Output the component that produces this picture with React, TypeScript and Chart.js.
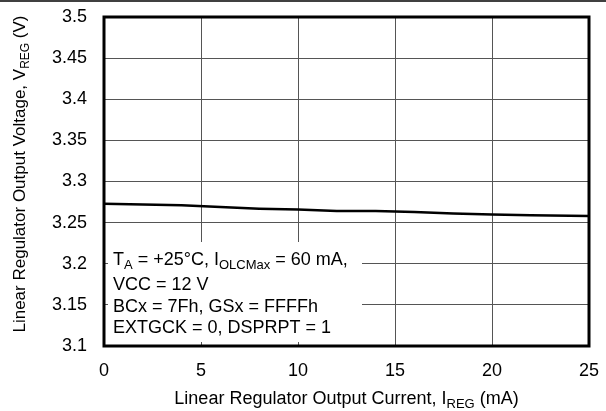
import React, { useEffect, useRef } from "react";
import { Chart, registerables } from "chart.js";

Chart.register(...registerables);

const currentMA = [0, 2, 4, 6, 8, 10, 11, 12, 14, 16, 18, 20, 22, 25];
const voltageV = [3.273, 3.272, 3.271, 3.269, 3.267, 3.266, 3.265, 3.264, 3.264, 3.263, 3.261, 3.26, 3.259, 3.258];

const xTicks = [0, 5, 10, 15, 20, 25];
const yTicks = [3.1, 3.15, 3.2, 3.25, 3.3, 3.35, 3.4, 3.45, 3.5];

// [text, isSubscript]
const xTitle: [string, boolean][] = [["Linear Regulator Output Current, I", false], ["REG", true], [" (mA)", false]];
const yTitle: [string, boolean][] = [["Linear Regulator Output Voltage, V", false], ["REG", true], [" (V)", false]];
const noteLines: [string, boolean][][] = [
  [["T", false], ["A", true], [" = +25°C, I", false], ["OLCMax", true], [" = 60 mA,", false]],
  [["VCC = 12 V", false]],
  [["BCx = 7Fh, GSx = FFFFh", false]],
  [["EXTGCK = 0, DSPRPT = 1", false]],
];

const FONT = "'Liberation Sans', Arial, Helvetica, sans-serif";
const FS = 18;
const SUB = 13;

function drawRich(ctx: CanvasRenderingContext2D, segs: [string, boolean][], x: number, y: number, align: "left" | "center", fs = FS, sub = SUB) {
  let total = 0;
  for (const [t, s] of segs) {
    ctx.font = `${s ? sub : fs}px ${FONT}`;
    total += ctx.measureText(t).width;
  }
  let cx = align === "center" ? x - total / 2 : x;
  ctx.textAlign = "left";
  ctx.textBaseline = "alphabetic";
  for (const [t, s] of segs) {
    ctx.font = `${s ? sub : fs}px ${FONT}`;
    ctx.fillText(t, cx, s ? y + 4 : y);
    cx += ctx.measureText(t).width;
  }
}

const noPad = (s: any) => {
  s.paddingTop = 0;
  s.paddingBottom = 0;
  s.paddingLeft = 0;
  s.paddingRight = 0;
};

const decorPlugin = {
  id: "decor",
  beforeDatasetsDraw(chart: any) {
    const { ctx, chartArea: a } = chart;
    ctx.save();
    ctx.fillStyle = "#fff";
    ctx.fillRect(a.left + 4, 242, 254, 100);
    ctx.restore();
  },
  afterDatasetsDraw(chart: any) {
    const { ctx, chartArea: a, width } = chart;
    ctx.save();
    ctx.fillStyle = "#000";
    const baselines = [265, 290, 311.7, 333.3];
    noteLines.forEach((ln, i) => drawRich(ctx, ln, a.left + 9, baselines[i], "left"));
    ctx.strokeStyle = "#000";
    ctx.lineWidth = 3;
    ctx.strokeRect(a.left, a.top, a.right - a.left, a.bottom - a.top);
    ctx.lineWidth = 1.5;
    ctx.beginPath();
    ctx.moveTo(0, 1);
    ctx.lineTo(width, 1);
    ctx.stroke();
    drawRich(ctx, xTitle, (a.left + a.right) / 2, 404, "center");
    ctx.translate(25, 174);
    ctx.rotate(-Math.PI / 2);
    drawRich(ctx, yTitle, 0, 0, "center", 17, 12);
    ctx.restore();
  },
};

export default function App() {
  const ref = useRef<HTMLCanvasElement>(null);
  useEffect(() => {
    if (!ref.current) return;
    const chart = new Chart(ref.current, {
      type: "line",
      data: {
        datasets: [
          {
            data: currentMA.map((x, i) => ({ x, y: voltageV[i] })),
            borderColor: "#000",
            borderWidth: 2.5,
            pointRadius: 0,
            tension: 0,
            fill: false,
          },
        ],
      },
      options: {
        animation: false,
        responsive: false,
        devicePixelRatio: 1,
        layout: { padding: { top: 17, right: 17, left: 0, bottom: 0 } },
        plugins: { legend: { display: false }, tooltip: { enabled: false } },
        scales: {
          x: {
            type: "linear",
            min: 0,
            max: 25,
            afterFit: (s: any) => { s.height = 65; noPad(s); },
            afterBuildTicks: (s: any) => { s.ticks = xTicks.map((v) => ({ value: v })); },
            grid: { color: "#555", lineWidth: 1, drawTicks: false },
            border: { display: false },
            ticks: { color: "#000", font: { family: FONT, size: FS }, padding: 14, maxRotation: 0 },
          },
          y: {
            type: "linear",
            min: 3.1,
            max: 3.5,
            afterFit: (s: any) => { s.width = 104; noPad(s); },
            afterBuildTicks: (s: any) => { s.ticks = yTicks.map((v) => ({ value: v })); },
            grid: { color: "#555", lineWidth: 1, drawTicks: false },
            border: { display: false },
            ticks: {
              color: "#000",
              font: { family: FONT, size: FS },
              padding: 17,
              callback: (v: any) => String(Math.round(Number(v) * 100) / 100),
            },
          },
        },
      },
      plugins: [decorPlugin],
    });
    return () => chart.destroy();
  }, []);
  return (
    <div style={{ position: "absolute", left: 0, top: 0, width: 606, height: 411, background: "#fff" }}>
      <canvas ref={ref} width={606} height={411} style={{ width: 606, height: 411 }} />
    </div>
  );
}
